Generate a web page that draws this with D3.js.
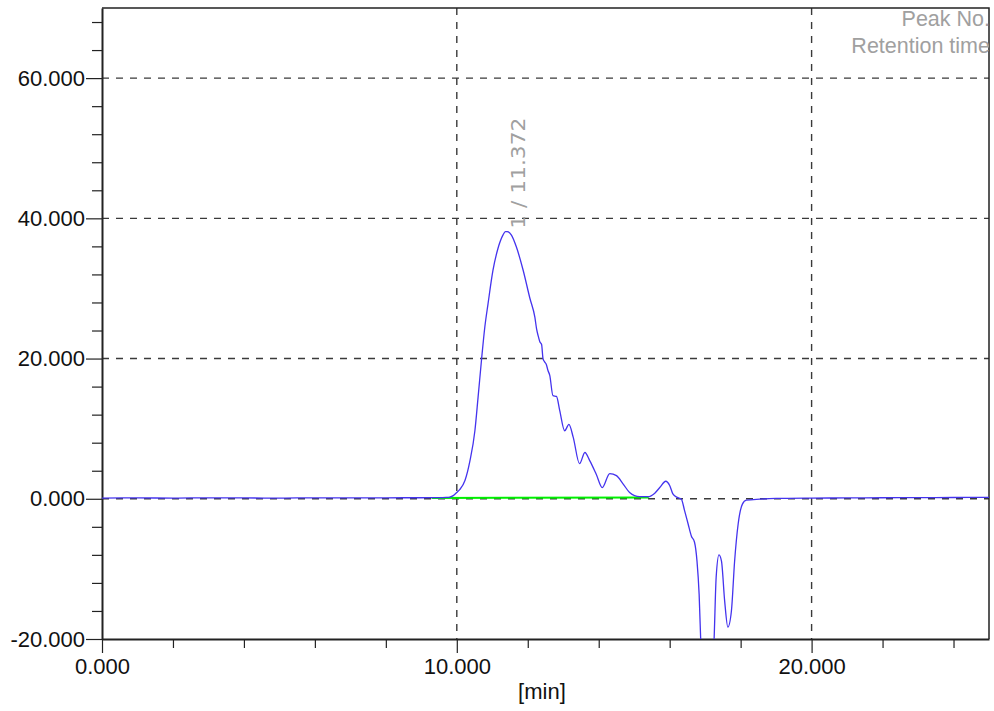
<!DOCTYPE html>
<html>
<head>
<meta charset="utf-8">
<script src="https://cdn.jsdelivr.net/npm/d3@7"></script>
<style>
  html, body { margin: 0; padding: 0; background: #fff; }
  svg { display: block; }
  text { font-family: Arial, "Liberation Sans", sans-serif; }
</style>
</head>
<body>
<svg id="chart" width="994" height="711"></svg>
<script>
// Chromatogram trace: retention time [min] and detector signal
const times = [0, 1, 2, 3, 4, 5, 6, 7, 8, 9, 9.5, 9.7, 9.8, 9.9, 10.0, 10.08, 10.23, 10.37, 10.51, 10.6,
  10.7, 10.79, 10.88, 11.02, 11.16, 11.3, 11.37, 11.42, 11.54, 11.68, 11.87, 12.06, 12.2, 12.25, 12.29,
  12.34, 12.39, 12.43, 12.48, 12.52, 12.57, 12.62, 12.71, 12.81, 12.9, 13.04, 13.16, 13.28, 13.46, 13.61,
  13.75, 13.93, 14.1, 14.31, 14.5, 14.69, 14.87, 15.15, 15.39, 15.58, 15.72, 15.89, 16.0, 16.09, 16.21,
  16.33, 16.42, 16.52, 16.61, 16.7, 16.77, 16.83, 16.9, 16.98, 17.06, 17.15, 17.25, 17.31, 17.39, 17.46,
  17.55, 17.64, 17.74, 17.83, 17.93, 18.05, 18.16, 18.54, 19, 20, 21, 22, 23, 24, 25];
const signal = [0.1, 0.12, 0.1, 0.13, 0.12, 0.1, 0.13, 0.12, 0.14, 0.15, 0.16, 0.2, 0.25, 0.45, 0.9, 1.3,
  2.6, 5.4, 9.7, 14.5, 20.0, 24.5, 27.8, 32.6, 35.7, 37.6, 38.1, 38.1, 37.6, 35.9, 32.6, 28.6, 25.9, 24.2,
  23.3, 22.4, 22.0, 20.0, 19.5, 19.2, 18.3, 17.6, 14.7, 14.6, 12.6, 9.7, 10.6, 8.8, 5.0, 6.6, 5.4, 3.5,
  1.6, 3.6, 3.3, 2.1, 0.9, 0.3, 0.3, 0.8, 1.6, 2.5, 1.9, 0.7, 0.2, -0.05, -1.7, -3.6, -5.3, -6.2, -8.9,
  -13.6, -24, -32, -33, -28, -20.3, -11.2, -8.0, -8.9, -14.6, -18.3, -16, -8.9, -3.6, -0.76, -0.2, -0.05,
  0.05, 0.1, 0.12, 0.15, 0.16, 0.18, 0.2];

// Integration baseline of peak 1
const baseTimes = [9.29, 15.41];
const baseValues = [0.1, 0.2];

// Peak annotation
const peakNo = [1];
const peakTime = [11.372];
const peakHeight = [38.1];

// Axis ticks
const xMajorTicks = [0, 10, 20];
const xMinorTicks = [2, 4, 6, 8, 12, 14, 16, 18, 22, 24];
const yMajorTicks = [-20, 0, 20, 40, 60];
const yMinorTicks = [-16, -12, -8, -4, 4, 8, 12, 16, 24, 28, 32, 36, 44, 48, 52, 56, 64, 68];
const legendLines = ["Peak No.", "Retention time"];
const xTitle = "[min]";

const svg = d3.select("#chart");
const mLeft = 102, mRight = 989, mTop = 8, mBottom = 639;

const x = d3.scaleLinear().domain([0, 25]).range([mLeft, mRight]);
const y = d3.scaleLinear().domain([-20, 70]).range([mBottom, mTop]);
// plain hyphen-minus for negative tick values
const fmt = d3.formatLocale({ decimal: ".", thousands: ",", grouping: [3], currency: ["", ""], minus: "-" })
  .format(".3f");

svg.append("defs").append("clipPath").attr("id", "plot")
  .append("rect").attr("x", mLeft).attr("y", mTop).attr("width", mRight - mLeft).attr("height", mBottom - mTop);

// Dashed grid
const grid = svg.append("g").attr("stroke", "#3a3a3a").attr("stroke-width", 1.4).attr("stroke-dasharray", "7,7");
grid.selectAll("line.h").data(yMajorTicks.filter(v => v > -20)).join("line").attr("class", "h")
  .attr("x1", mLeft).attr("x2", mRight).attr("y1", d => y(d)).attr("y2", d => y(d));
grid.selectAll("line.v").data(xMajorTicks.filter(v => v > 0)).join("line").attr("class", "v")
  .attr("y1", mTop).attr("y2", mBottom).attr("x1", d => x(d)).attr("x2", d => x(d));

// Axes
const axisStyle = g => {
  g.selectAll("path.domain").attr("stroke", "#222").attr("stroke-width", 2);
  g.selectAll(".tick line").attr("stroke", "#222").attr("stroke-width", 1.2);
  g.selectAll(".tick text").attr("fill", "#111").style("font-size", "22px");
};

svg.append("g").attr("transform", `translate(0,${mBottom})`)
  .call(d3.axisBottom(x).tickValues(xMinorTicks).tickSize(9).tickSizeOuter(0).tickFormat(""))
  .call(axisStyle).call(g => g.select("path.domain").remove());
svg.append("g").attr("transform", `translate(0,${mBottom})`)
  .call(d3.axisBottom(x).tickValues(xMajorTicks).tickSize(14).tickSizeOuter(0).tickPadding(5).tickFormat(fmt))
  .call(axisStyle);

svg.append("g").attr("transform", `translate(${mLeft},0)`)
  .call(d3.axisLeft(y).tickValues(yMinorTicks).tickSize(10).tickSizeOuter(0).tickFormat(""))
  .call(axisStyle).call(g => g.select("path.domain").remove());
svg.append("g").attr("transform", `translate(${mLeft},0)`)
  .call(d3.axisLeft(y).tickValues(yMajorTicks).tickSize(16).tickSizeOuter(0).tickPadding(1).tickFormat(fmt))
  .call(axisStyle);

// Frame top / right
svg.append("path")
  .attr("d", `M${mLeft},${mTop}H${mRight}V${mBottom}`)
  .attr("fill", "none").attr("stroke", "#222").attr("stroke-width", 1.5);

// Axis title
svg.append("text").attr("x", x(12.4)).attr("y", 699).attr("text-anchor", "middle")
  .attr("fill", "#111").style("font-size", "22px").text(xTitle);

const plot = svg.append("g").attr("clip-path", "url(#plot)");

// Baseline
plot.append("path")
  .datum(baseTimes.map((t, i) => [t, baseValues[i]]))
  .attr("fill", "none").attr("stroke", "#00f000").attr("stroke-width", 2)
  .attr("d", d3.line().x(d => x(d[0])).y(d => y(d[1])));

// Signal trace
plot.append("path")
  .datum(times.map((t, i) => [t, signal[i]]))
  .attr("fill", "none").attr("stroke", "#4433ee").attr("stroke-width", 1.3)
  .attr("d", d3.line().x(d => x(d[0])).y(d => y(d[1])).curve(d3.curveMonotoneX));

// Peak label
peakNo.forEach((n, i) => {
  const px = x(peakTime[i]) + 20, py = y(peakHeight[i]) - 3;
  svg.append("text")
    .attr("transform", `translate(${px},${py}) rotate(-90)`)
    .attr("fill", "#a0a0a0")
    .attr("textLength", 111).attr("lengthAdjust", "spacingAndGlyphs")
    .style("font-size", "20px")
    .style("font-family", "'Liberation Sans Narrow', 'DejaVu Sans Condensed', sans-serif")
    .text(`${n} / ${peakTime[i].toFixed(3)}`);
});

// Label key
const key = svg.append("g").attr("clip-path", "url(#plot)");
legendLines.forEach((s, i) => {
  key.append("text").attr("x", mRight + 1).attr("y", 26 + i * 27)
    .attr("text-anchor", "end").attr("fill", "#a0a0a0").style("font-size", "21.5px").text(s);
});
</script>
</body>
</html>
